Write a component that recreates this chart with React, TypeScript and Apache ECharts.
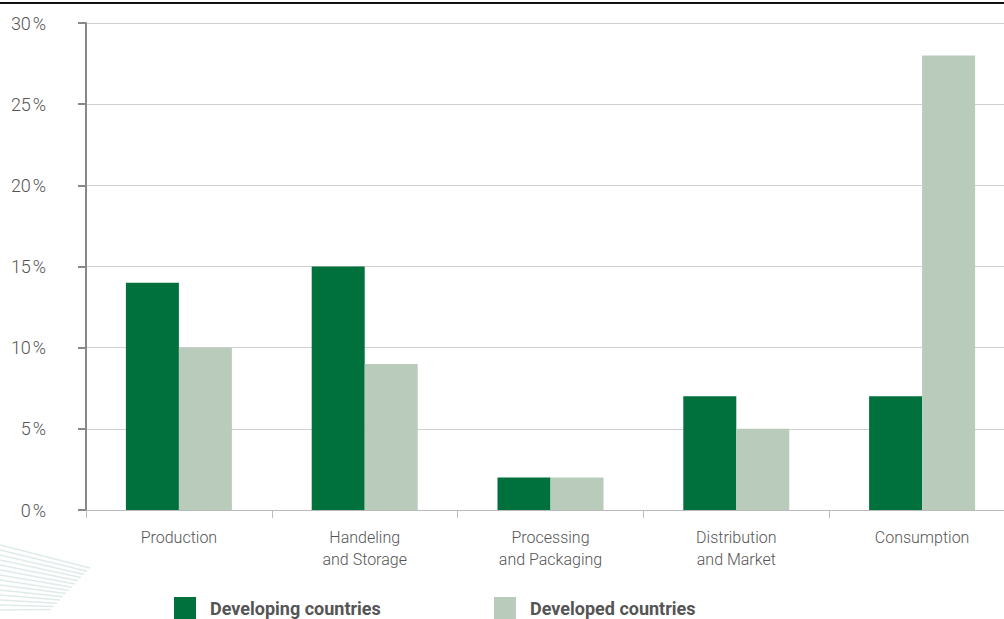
import React, { useEffect, useRef } from "react";
import * as echarts from "echarts";

const categories = ["Production", "Handeling\nand Storage", "Processing\nand Packaging", "Distribution\nand Market", "Consumption"];
const developing = [14, 15, 2, 7, 7];
const developed = [10, 9, 2, 5, 28];
const seriesNames = ["Developing countries", "Developed countries"];

export default function App() {
  const ref = useRef<HTMLDivElement>(null);
  useEffect(() => {
    const chart = echarts.init(ref.current!, null, { renderer: "svg" });
    const font = "Roboto, 'Open Sans', sans-serif";
    const stripes: any[] = [];
    for (let i = 0; i < 14; i++) {
      stripes.push({
        type: "line",
        shape: { x1: 0, y1: 545 + i * 5, x2: 90 - i * 3, y2: 568 + i * 3.2 },
        style: { stroke: "#dfece6", lineWidth: 1.5 },
        silent: true,
        z: -1,
      });
    }
    const legendText = {
      fontFamily: font,
      fontSize: 18,
      fontWeight: "bold",
      color: "#555",
      padding: [9, 0, 0, 9],
    };
    chart.setOption({
      animation: false,
      grid: { left: 86, right: 0, top: 23, bottom: 109, containLabel: false },
      legend: [
        {
          data: [seriesNames[0]],
          left: 174,
          top: 597,
          itemWidth: 22,
          itemHeight: 22,
          icon: "rect",
          textStyle: legendText,
          padding: 0,
        },
        {
          data: [seriesNames[1]],
          left: 494,
          top: 597,
          itemWidth: 22,
          itemHeight: 22,
          icon: "rect",
          textStyle: legendText,
          padding: 0,
        },
      ],
      graphic: [
        { type: "rect", shape: { x: 0, y: 2, width: 1004, height: 2 }, style: { fill: "#111" }, silent: true },
        ...stripes,
      ],
      xAxis: {
        type: "category",
        data: categories,
        axisLine: { show: true, lineStyle: { color: "#bbb", width: 1 } },
        axisTick: { show: true, length: 8, alignWithLabel: false, lineStyle: { color: "#bbb" } },
        axisLabel: { fontFamily: font, fontWeight: 300, fontSize: 16, color: "#555", margin: 16, lineHeight: 22 },
      },
      yAxis: {
        type: "value",
        min: 0,
        max: 30,
        interval: 5,
        axisLine: { show: true, lineStyle: { color: "#888", width: 2 } },
        axisTick: { show: true, length: 8, lineStyle: { color: "#888", width: 2 } },
        axisLabel: { fontFamily: font, fontWeight: 300, fontSize: 18, color: "#555", margin: 40, formatter: "{value}\u200a%" },
        splitLine: { show: true, lineStyle: { color: "#d0d0d0", width: 1 } },
      },
      series: [
        {
          name: seriesNames[0],
          type: "bar",
          data: developing,
          barWidth: 53,
          barGap: "0%",
          itemStyle: { color: "#00703c" },
        },
        {
          name: seriesNames[1],
          type: "bar",
          data: developed,
          barWidth: 53,
          barGap: "0%",
          itemStyle: { color: "#b9cbba" },
        },
      ],
    });
    return () => chart.dispose();
  }, []);
  return (
    <div style={{ position: "absolute", left: 0, top: 0, width: 1004, height: 619, overflow: "hidden" }}>
      <div ref={ref} style={{ position: "absolute", left: 0, top: 0, width: 1015, height: 619 }} />
    </div>
  );
}
